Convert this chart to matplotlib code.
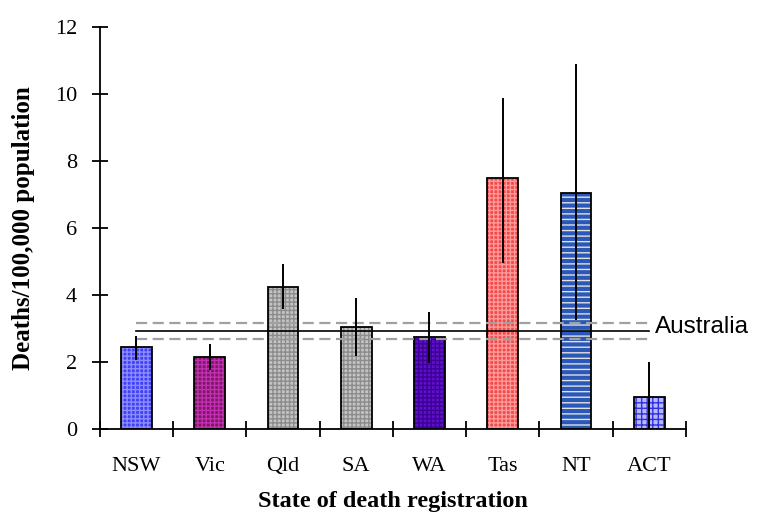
import numpy as np
import matplotlib
matplotlib.use("Agg")
import matplotlib.pyplot as plt

states = ["NSW", "Vic", "Qld", "SA", "WA", "Tas", "NT", "ACT"]
rates = [2.45, 2.16, 4.25, 3.05, 2.75, 7.49, 7.05, 0.96]
ci_low = [2.06, 1.76, 3.58, 2.18, 1.97, 4.95, 3.25, 0.0]
ci_high = [2.78, 2.54, 4.92, 3.90, 3.49, 9.87, 10.90, 2.00]
aus_rate = 2.93
aus_low = 2.69
aus_high = 3.17

face_colors = ["#4040f4", "#7c1864", "#c4c4c4", "#c4c4c4", "#6010c8", "#f04a4a", "#2a58b8", "#b8b8ff"]
hatch_colors = ["#8c8cff", "#c030b0", "#8c8c8c", "#8c8c8c", "#3c0096", "#ff9a9a", "#e0e0e0", "#3030e0"]
hatches = ["++++", "++++", "++++", "++++", "++++", "++++", "---", "+++"]

plt.rcParams["font.family"] = ["Liberation Serif", "DejaVu Serif"]

fig = plt.figure(figsize=(7.62, 5.12), dpi=100)
ax = fig.add_axes([0.131, 0.162, 0.769, 0.785])

x = np.arange(len(states))
width = 0.42

# fill + pattern first, outline on top
for i in range(len(states)):
    ax.bar(x[i], rates[i], width, color=face_colors[i], hatch=hatches[i],
           edgecolor=hatch_colors[i], linewidth=0, zorder=2)
ax.bar(x, rates, width, fill=False, edgecolor="black", linewidth=1.3, zorder=3)

# Australia rate and its interval
ax.plot([x[0], x[-1]], [aus_high, aus_high], color="#a0a0a0", lw=1.6,
        dashes=(5, 2.5), zorder=4)
ax.plot([x[0], x[-1]], [aus_low, aus_low], color="#a0a0a0", lw=1.6,
        dashes=(5, 2.5), zorder=4)
ax.plot([x[0], x[-1]], [aus_rate, aus_rate], color="black", lw=1.2, zorder=4)
ax.text(x[-1] + 0.08, aus_rate + 0.12, "Australia", family="Liberation Sans",
        fontsize=17.5, va="center", ha="left")

# confidence intervals
ax.vlines(x, ci_low, ci_high, color="black", lw=1.4, zorder=5)

ax.set_xlim(-0.5, len(states) - 0.5)
ax.set_ylim(0, 12)
ax.set_yticks(range(0, 13, 2))
ax.set_xticks(x)
ax.set_xticklabels(states)
ax.set_xticks(np.arange(-0.5, len(states), 1), minor=True)
ax.tick_params(axis="x", which="major", length=0, pad=20, labelsize=16)
ax.tick_params(axis="x", which="minor", length=11, width=1.3, direction="inout")
ax.tick_params(axis="y", length=11, width=1.3, direction="inout", pad=11, labelsize=16)

for s in ["top", "right"]:
    ax.spines[s].set_visible(False)
for s in ["left", "bottom"]:
    ax.spines[s].set_linewidth(1.3)

ax.set_ylabel("Deaths/100,000 population", fontsize=18, fontweight="bold", labelpad=14)
ax.set_xlabel("State of death registration", fontsize=17.5, fontweight="bold", labelpad=11)

fig.savefig("out.png", dpi=100)
